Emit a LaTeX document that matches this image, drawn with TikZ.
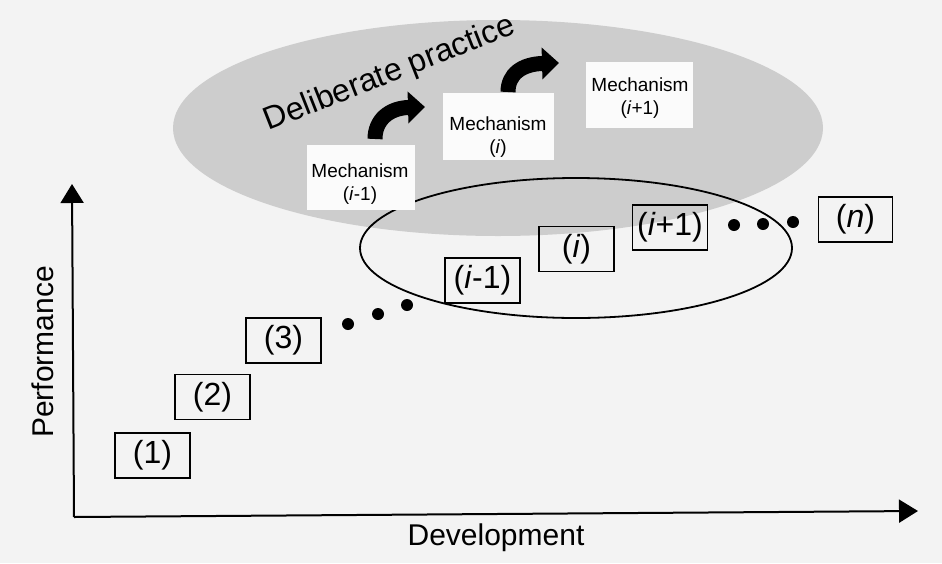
\documentclass[tikz,border=0pt]{standalone}
\usepackage{fontspec}
\setmainfont{Liberation Sans}
\usetikzlibrary{arrows.meta}
\definecolor{bgcol}{RGB}{243,243,243}
\definecolor{ellgray}{RGB}{205,205,205}
\definecolor{patch}{RGB}{251,251,251}
\begin{document}
\begin{tikzpicture}[x=1pt,y=-1pt,
  stagebox/.style={draw, line width=1.8pt, minimum width=75pt, minimum height=45pt, inner sep=0pt,
    font=\fontsize{32}{38}\selectfont},
  mechpatch/.style={fill=patch, inner sep=0pt},
  mechtext/.style={align=center, inner sep=0pt, font=\fontsize{19}{23}\selectfont},
  dotnode/.style={circle, fill=black, inner sep=0pt, minimum size=12pt},
  bendarrow/.style={line width=15pt, -{Triangle[length=17pt,width=31pt]}},
  axisline/.style={line width=2pt, -{Triangle[length=19pt,width=23pt]}},
  axislabel/.style={font=\fontsize{30}{36}\selectfont, inner sep=0pt, anchor=base}]
\useasboundingbox (0,0) rectangle (942,563);
\fill[bgcol] (0,0) rectangle (942,563);

% deliberate practice region
\fill[ellgray] (498,128) ellipse [x radius=325pt, y radius=108pt];
% current mechanism region
\draw[line width=1.8pt] (576,248) ellipse [x radius=216pt, y radius=70pt];

% mechanism patches
\node[mechpatch, minimum width=108pt, minimum height=65pt] (m1box) at (361,177.5) {};
\node[mechpatch, minimum width=111pt, minimum height=67pt] (m2box) at (498.5,126.5) {};
\node[mechpatch, minimum width=107pt, minimum height=66pt] (m3box) at (639.5,95) {};
\node[mechtext] (m1) at (360,184) {Mechanism\\(\textit{i}-1)};
\node[mechtext] (m2) at (498,137) {Mechanism\\(\textit{i})};
\node[mechtext] (m3) at (640,98) {Mechanism\\(\textit{i}+1)};

% bent arrows
\coordinate (a1s) at (375,139);
\coordinate (a1e) at (425,107);
\coordinate (a2s) at (508,92);
\coordinate (a2e) at (559,63);
\draw[bendarrow] (a1s) .. controls (375,120) and (389,108) .. (a1e);
\draw[bendarrow] (a2s) .. controls (508,74) and (522,64) .. (a2e);

\node[font=\fontsize{32}{38}\selectfont, inner sep=0pt, anchor=base, rotate=21.5] (dp) at (393,82) {Deliberate practice};

% stages
\node[stagebox] (s1) at (152.5,455.5) {(1)};
\node[stagebox] (s2) at (212.5,397) {(2)};
\node[stagebox] (s3) at (283.5,340.5) {(3)};
\node[stagebox] (si1) at (482.5,280.5) {(\textit{i}-1)};
\node[stagebox] (si) at (576.5,249) {(\textit{i})};
\node[stagebox] (sip) at (670,227.5) {(\textit{i}+1)};
\node[stagebox, minimum width=74pt] (sn) at (855.5,219.5) {(\textit{n})};

\node[dotnode] (d1) at (348,324) {};
\node[dotnode] (d2) at (378,314) {};
\node[dotnode] (d3) at (407,305) {};
\node[dotnode] (d4) at (734,225) {};
\node[dotnode] (d5) at (763,224) {};
\node[dotnode] (d6) at (793,222) {};

% axes
\coordinate (orig) at (74,517);
\coordinate (ytip) at (72,184);
\coordinate (xtip) at (918,511);
\draw[axisline] (orig) -- (ytip);
\draw[axisline] (orig) -- (xtip);
\node[axislabel] (xl) at (496,545) {Development};
\node[axislabel, rotate=90] (yl) at (53,352) {Performance};
\end{tikzpicture}
\end{document}
